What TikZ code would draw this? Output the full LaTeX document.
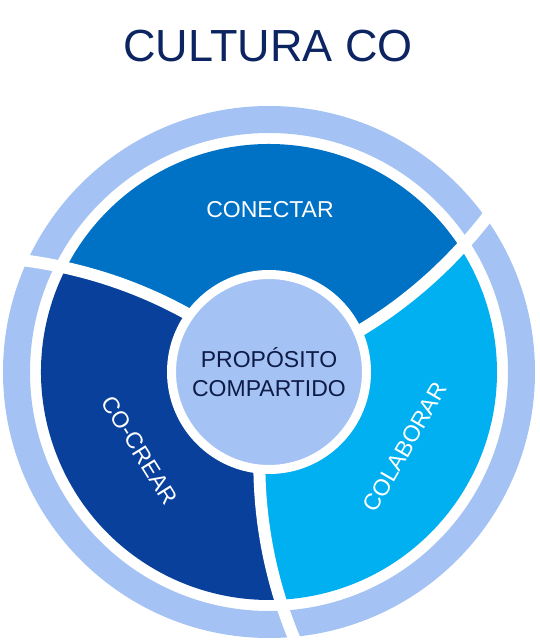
\documentclass[tikz,border=0pt]{standalone}
\usepackage{fontspec}
\setmainfont{Liberation Sans}
\usepackage{tikz}

\definecolor{navy}{RGB}{12,36,97}
\definecolor{ringblue}{RGB}{164,194,244}
\definecolor{conectar}{RGB}{0,114,198}
\definecolor{cocrear}{RGB}{9,64,155}
\definecolor{colaborar}{RGB}{0,176,240}
\definecolor{hubtext}{RGB}{14,27,70}

\begin{document}
\begin{tikzpicture}[x=1pt, y=1pt,
	seglabel/.style={text=white, font=\fontsize{23}{28}\selectfont},
	hub/.style={circle, fill=ringblue, draw=white, line width=9pt, minimum size=195pt, inner sep=0pt, align=center, text=hubtext, font=\fontsize{23}{29}\selectfont},
	cut/.style={white, line width=12pt}]
\useasboundingbox (-269,-270) rectangle (271,372);
% outer ring
\fill[ringblue, even odd rule] (0,0) circle[radius=266] (0,0) circle[radius=239];
% the three segments
\foreach \a/\col in {24.5/conectar, 144.5/cocrear, 264.5/colaborar}
	\fill[\col] plot[variable=\rad, domain=90:228, samples=25] ({\a+0.065*(\rad-100)}:\rad)
		arc[start angle={\a+0.065*128}, end angle={\a+120+0.065*128}, radius=228]
		-- plot[variable=\rad, domain=228:90, samples=25] ({\a+120+0.065*(\rad-100)}:\rad) -- cycle;
% white cuts
\foreach \a in {24.5, 144.5, 264.5}
	\draw[cut] plot[variable=\rad, domain=95:285, samples=25] ({\a+0.065*(\rad-100)}:\rad);
\node[hub] (hub) at (0,0) {PROPÓSITO\\COMPARTIDO};
\node[seglabel] (conectar) at (1,162) {CONECTAR};
\node[seglabel, rotate=-58] (cocrear) at (-129,-78) {CO-CREAR};
\node[seglabel, rotate=60] (colaborar) at (136,-75) {COLABORAR};
\node[text=navy, font=\fontsize{45}{54}\selectfont] (title) at (-1,325.5) {CULTURA CO};
\end{tikzpicture}
\end{document}
